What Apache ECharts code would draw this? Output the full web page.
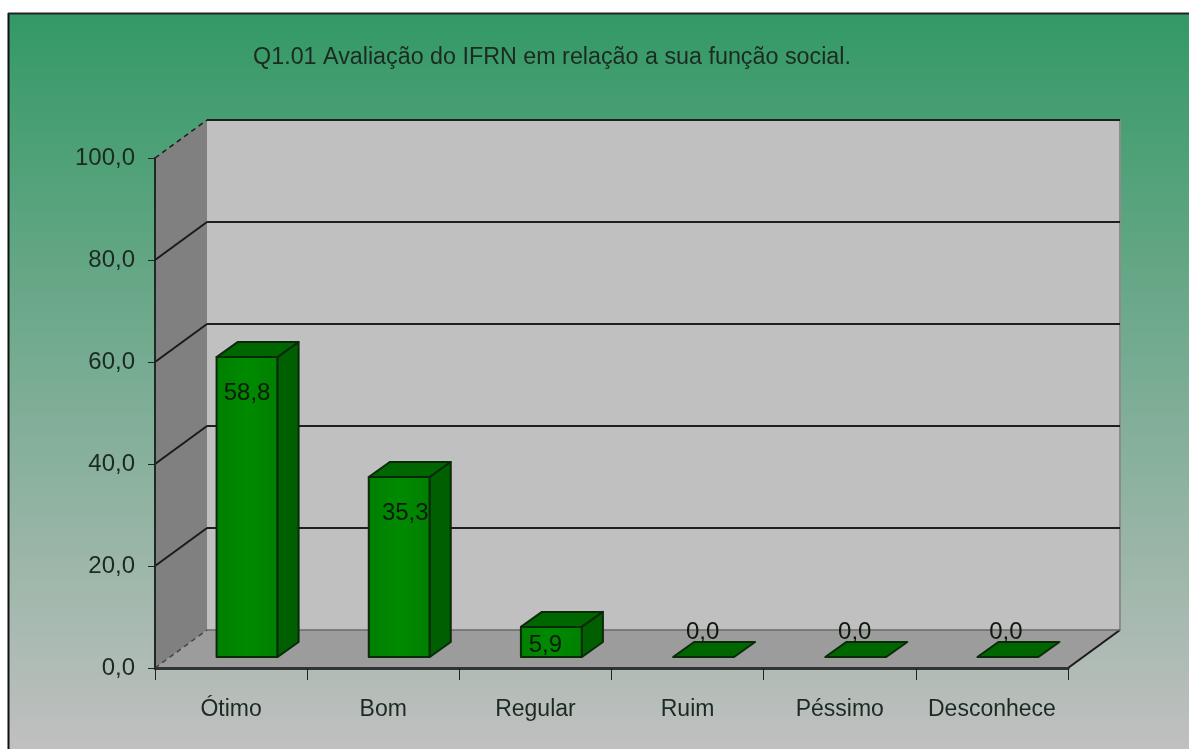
<!DOCTYPE html>
<html><head><meta charset="utf-8">
<style>html,body{margin:0;padding:0;background:#fff}#c{width:1189px;height:749px}</style>
<script src="https://cdn.jsdelivr.net/npm/echarts@6/dist/echarts.min.js"></script>
</head><body><div id="c"></div>
<script>
const titleText = 'Q1.01 Avaliação do IFRN em relação a sua função social.';
const categories = ['Ótimo','Bom','Regular','Ruim','Péssimo','Desconhece'];
const values = [58.8,35.3,5.9,0.0,0.0,0.0];
const yTicks = [0,20,40,60,80,100];

const FONT = '"Liberation Sans", Arial, sans-serif';
const INK = '#1c2a22';
const D = {x:52,y:-38};           // full wall depth
const B = {x0:16,y0:-11,dx:21,dy:-15,w:61}; // bar placement inside the depth
const labelNudge = [[16,36],[22,36],[10,18],[15,-25],[15,-25],[14,-25]];
const fmt = v => v.toFixed(1).replace('.',',');
const pts = a => ({points:a});

function barGeom(api){
  const c = api.coord([api.value(0),api.value(1)]);
  const z = api.coord([api.value(0),0]);
  const l = c[0]-B.w/2+B.x0, r = l+B.w, t = c[1]+B.y0, b = z[1]+B.y0;
  return {c,l,r,t,b};
}
const option = {
  animation:false,
  backgroundColor:'#fff',
  graphic:[
    {type:'rect',z:-10,silent:true,shape:{x:8,y:13,width:1181,height:736},
      style:{fill:new echarts.graphic.LinearGradient(0,0,0,1,[
        {offset:0,color:'#339966'},{offset:1,color:'#c0c0c0'}]),stroke:null}},
    {type:'line',z:-9,silent:true,shape:{x1:8.5,y1:13,x2:8.5,y2:749},style:{stroke:'#111',lineWidth:2}},
    {type:'line',z:-9,silent:true,shape:{x1:8,y1:13.5,x2:1189,y2:13.5},style:{stroke:'#222',lineWidth:2}},
    {type:'text',z:20,style:{x:552,y:58,text:titleText,font:'23.3px '+FONT,fill:INK,align:'center',verticalAlign:'middle'}}
  ],
  grid:{left:155,right:121,top:158,bottom:81},
  xAxis:{type:'category',data:categories,z:6,
    axisLine:{lineStyle:{color:'#333',width:3}},
    axisTick:{show:true,interval:0,alignWithLabel:false,length:12,lineStyle:{color:'#222',width:1}},
    axisLabel:{interval:0,hideOverlap:false,color:INK,fontFamily:FONT,fontSize:23,margin:30},splitLine:{show:false}},
  yAxis:{type:'value',min:0,max:100,interval:20,z:6,
    axisLine:{show:true,lineStyle:{color:'#1c2a22',width:2}},
    axisTick:{show:true,length:7,lineStyle:{color:'#222',width:1}},
    axisLabel:{color:INK,fontFamily:FONT,fontSize:24,margin:20,padding:[14,0,0,0],formatter:v=>fmt(v)},
    splitLine:{show:false}},
  series:[
    {type:'custom',z:1,silent:true,data:[[0,0]],encode:{x:0,y:1},renderItem(p,api){
      const g=p.coordSys, x0=g.x,x1=g.x+g.width,yT=g.y,yB=g.y+g.height;
      return {type:'group',children:[
        {type:'polygon',shape:pts([[x0+D.x,yT+D.y],[x1+D.x,yT+D.y],[x1+D.x,yB+D.y],[x0+D.x,yB+D.y]]),style:{fill:'#c0c0c0'}},
        {type:'polygon',shape:pts([[x0,yT],[x0+D.x,yT+D.y],[x0+D.x,yB+D.y],[x0,yB]]),style:{fill:'#808080'}},
        {type:'polygon',shape:pts([[x0,yB],[x0+D.x,yB+D.y],[x1+D.x,yB+D.y],[x1,yB]]),style:{fill:'#9c9c9c'}},
        {type:'line',shape:{x1:x1+D.x,y1:yT+D.y,x2:x1+D.x,y2:yB+D.y},style:{stroke:'#8c8c8c',lineWidth:2}},
        {type:'line',shape:{x1:x1,y1:yB,x2:x1+D.x,y2:yB+D.y},style:{stroke:'#1a1a1a',lineWidth:2}}
      ]};
    }},
    {type:'custom',z:2,silent:true,data:yTicks.map(t=>[0,t]),encode:{x:0,y:1},renderItem(p,api){
      const v=api.value(1), g=p.coordSys, c=api.coord([0,v]), x0=g.x, y=c[1];
      const edge=(v===0||v===100), base=v===0;
      return {type:'group',children:[
        {type:'line',shape:{x1:x0,y1:y,x2:x0+D.x,y2:y+D.y},style:{stroke:base?'#444':'#1a1a1a',lineWidth:edge?1.5:2,lineDash:edge?[5,4]:null}},
        {type:'line',shape:{x1:x0+D.x,y1:y+D.y,x2:g.x+g.width+D.x,y2:y+D.y},style:{stroke:base?'#6a6a6a':'#1e1e1e',lineWidth:base?1.5:2}}
      ]};
    }},
    {type:'custom',z:3,silent:true,data:values.map((v,i)=>[i,v]),encode:{x:0,y:1},renderItem(p,api){
      const {l,r,t,b}=barGeom(api);
      const line={stroke:'#0a2a0a',lineWidth:2,lineJoin:'round'};
      return {type:'group',children:[
        {type:'polygon',shape:pts([[l,t],[l+B.dx,t+B.dy],[r+B.dx,t+B.dy],[r,t]]),style:{fill:'#006600',...line}},
        ...(b-t>0.5?[{type:'rect',shape:{x:l,y:t,width:B.w,height:b-t},style:{fill:new echarts.graphic.LinearGradient(0,0,1,0,[
          {offset:0,color:'#007f00'},{offset:.5,color:'#008a00'},{offset:1,color:'#007f00'}]),...line}}]:[])
      ]};
    }},
    {type:'custom',z:4,silent:true,data:values.map((v,i)=>[i,v]),encode:{x:0,y:1},renderItem(p,api){
      const c=api.coord([api.value(0),api.value(1)]), n=labelNudge[api.value(0)];
      return {type:'text',style:{x:c[0]+n[0],y:c[1]+B.y0+n[1],text:fmt(api.value(1)),
        font:'24px '+FONT,fill:'#0c1a0c',align:'center',verticalAlign:'middle'}};
    }},
    {type:'custom',z:5,silent:true,data:values.map((v,i)=>[i,v]),encode:{x:0,y:1},renderItem(p,api){
      const {r,t,b}=barGeom(api);
      if(b-t<0.5) return {type:'group',children:[]};
      return {type:'polygon',shape:pts([[r,t],[r+B.dx,t+B.dy],[r+B.dx,b+B.dy],[r,b]]),
        style:{fill:'#005f00',stroke:'#0a2a0a',lineWidth:2,lineJoin:'round'}};
    }}
  ]
};
echarts.init(document.getElementById('c'),null,{renderer:'canvas'}).setOption(option);
</script></body></html>
